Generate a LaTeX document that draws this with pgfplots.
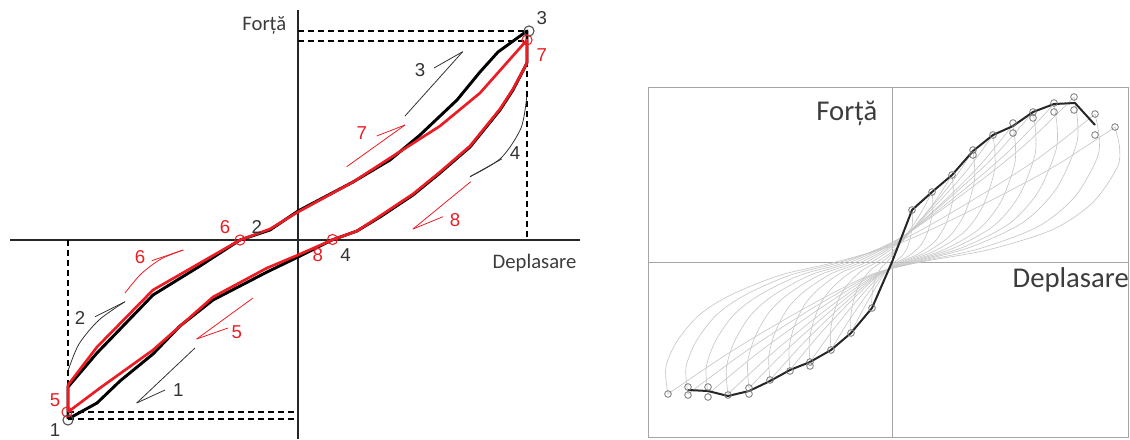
\documentclass[border=0pt]{standalone}
\usepackage{pgfplots}
\pgfplotsset{compat=1.18}
\usepackage{fontspec}
\setmainfont{Carlito}
\newfontfamily\arial{Liberation Sans}
\definecolor{cred}{RGB}{235,28,36}
\definecolor{lgray}{RGB}{200,200,200}
\definecolor{fgray}{RGB}{165,165,165}
\definecolor{mgray}{RGB}{120,120,120}
\definecolor{tgray}{RGB}{60,60,60}
\tikzset{digit/.style={font=\arial\fontsize{14}{16}\selectfont}}
\begin{document}
\begin{tikzpicture}
\begin{axis}[
  at={(0,0)}, anchor=south west,
  width=847.5pt, height=329.25pt, scale only axis,
  xmin=0, xmax=1130, ymin=0, ymax=439, y dir=reverse,
  hide axis, clip=false,
  blk/.style={black, line width=2.2pt, line join=round},
  rdc/.style={cred, line width=2pt, line join=round},
  dsh/.style={black, line width=0.8pt, dash pattern=on 4.5pt off 3pt},
  thinb/.style={black!80, line width=0.6pt},
  thinr/.style={cred, line width=0.6pt},
  loop/.style={lgray, line width=0.5pt, smooth},
]
% ---------- left panel ----------
\addplot[black!85, line width=0.9pt] coordinates {(10,240)(580,240)};
\addplot[black!85, line width=0.9pt] coordinates {(298,10)(298,439)};
\addplot[dsh] coordinates {(298,31)(527,31)};
\addplot[dsh] coordinates {(298,41)(527,41)};
\addplot[dsh] coordinates {(527,31)(527,240)};
\addplot[dsh] coordinates {(68,240)(68,419)};
\addplot[dsh] coordinates {(68,412)(298,412)};
\addplot[dsh] coordinates {(68,419)(298,419)};
% black loop
\addplot[blk] coordinates {(68,419)(68,387)(97,353)(153,295)(200,266)(240,240)(270,230)(298,211)(353,182)(390,160)(420,135)(457,100)(480,72)(498,52)(527,31)(527,63)};
\addplot[blk] coordinates {(527,63)(513,90)(500,110)(470,147)(440,173)(413,195)(380,217)(357,231)(332,240)(298,257)(267,272)(213,300)(180,326)(153,354)(120,381)(97,403)(68,419)};
% red loop
\addplot[rdc] coordinates {(68,412)(68,385)(97,347)(153,290)(200,263)(240,240)(270,229)(298,212)(353,182)(390,158)(440,126)(480,93)(527,40)(527,63)};
\addplot[rdc] coordinates {(527,63)(513,89)(500,109)(470,146)(440,172)(413,194)(380,216)(357,231)(332,240)(298,255)(267,268)(213,297)(153,350)(100,388)(68,412)};
% circles
\addplot[only marks, mark=o, mark size=3.8pt, mark options={draw=black!70, line width=0.8pt}] coordinates {(68,420)(529,31)};
\addplot[only marks, mark=o, mark size=3.8pt, mark options={draw=cred, line width=0.8pt}] coordinates {(67,412)(240,240)(332.5,239.5)(527,40)};
% direction arrows
\addplot[thinb] coordinates {(405,116)(462.7,51.7)};
\addplot[thinb] coordinates {(434,68)(462.7,51.7)};
\addplot[thinr] coordinates {(346.7,166.7)(405,125)};
\addplot[thinr] coordinates {(376.7,136)(405,125)};
\addplot[thinb, smooth] coordinates {(526.7,96.7)(521,128)(501,158)(470,176.7)};
\addplot[thinb] coordinates {(501.7,159)(470,176.7)};
\addplot[thinr] coordinates {(470.7,181.7)(413,229)};
\addplot[thinr] coordinates {(443,216.7)(413,229)};
\addplot[thinb, smooth] coordinates {(68.3,370)(79,344)(99,320)(125,301.7)};
\addplot[thinb] coordinates {(95,316.7)(125,301.7)};
\addplot[thinr, smooth] coordinates {(125,293)(141,274)(161,259)(183.3,250)};
\addplot[thinr] coordinates {(151.7,260.7)(183.3,250)};
\addplot[thinb] coordinates {(195,348)(136.7,403)};
\addplot[thinb] coordinates {(165,390)(136.7,403)};
\addplot[thinr] coordinates {(253,298)(196.7,339)};
\addplot[thinr] coordinates {(228,328)(196.7,339)};
% labels
\node[anchor=base east, text=tgray, font=\fontsize{15.5}{18}\selectfont] at (axis cs:291,31) {Forță};
\node[anchor=base west, text=tgray, font=\fontsize{15.5}{18}\selectfont] at (axis cs:488,268) {Deplasare};
\node[digit, text=black!80] at (axis cs:541.7,18.3) {3};
\node[digit, text=cred] at (axis cs:541.7,55) {7};
\node[digit, text=black!80] at (axis cs:256.7,226.7) {2};
\node[digit, text=cred] at (axis cs:225,226.7) {6};
\node[digit, text=black!80] at (axis cs:345.5,255) {4};
\node[digit, text=cred] at (axis cs:317.8,255) {8};
\node[digit, text=cred] at (axis cs:55,400) {5};
\node[digit, text=black!80] at (axis cs:55,430) {1};
\node[digit, text=black!80] at (axis cs:420,70) {3};
\node[digit, text=cred] at (axis cs:361.7,133.3) {7};
\node[digit, text=black!80] at (axis cs:515,153) {4};
\node[digit, text=cred] at (axis cs:455,220) {8};
\node[digit, text=black!80] at (axis cs:80,318) {2};
\node[digit, text=cred] at (axis cs:140,256.7) {6};
\node[digit, text=black!80] at (axis cs:178.3,390) {1};
\node[digit, text=cred] at (axis cs:236.7,331.7) {5};
% ---------- right panel ----------
\addplot[fgray, line width=0.7pt] coordinates {(648,87)(1128.5,87)(1128.5,437)(648,437)(648,87)};
\addplot[fgray, line width=0.6pt] coordinates {(892,87)(892,437)};
\addplot[fgray, line width=0.6pt] coordinates {(648,262)(1128.5,262)};
% hysteresis loops: reloading branch (negative peak -> positive peak) and unloading branch
\addplot[loop] coordinates {(872,308)(871.8,298.8)(872.8,289.6)(874.8,280.4)(877.6,273.5)(882,266.6)(887,262)(893,254.2)(900,240.2)(906.4,225.6)(912,210)};
\addplot[loop] coordinates {(912,210)(912.4,217.8)(912.2,225.6)(910,239.1)(906.4,249.5)(900.6,257.3)(894.6,262)(890,266.6)(884,278.6)(877.6,293.3)(872,308)};
\addplot[loop] coordinates {(851,333)(850.6,318.8)(852.6,304.6)(856.7,290.4)(862.5,279.8)(871.5,269.1)(881.8,262)(894,251.5)(908,232.6)(920.8,213)(932,192)};
\addplot[loop] coordinates {(932,192)(932.8,202.5)(932.4,213)(928,231.2)(920.8,245.2)(909.2,255.7)(897.2,262)(887.9,269.1)(875.6,287.6)(862.5,310.3)(851,333)};
\addplot[loop] coordinates {(831,350)(830.4,332.4)(833.4,314.8)(839.5,297.2)(848.1,284)(861.5,270.8)(876.8,262)(895,249)(916,225.5)(935.2,201.1)(952,175)};
\addplot[loop] coordinates {(952,175)(953.2,188)(952.6,201.1)(946,223.7)(935.2,241.1)(917.8,254.2)(899.8,262)(885.9,270.8)(867.6,293.7)(848.1,321.8)(831,350)};
\addplot[loop] coordinates {(810,362)(809.2,342)(813.3,322)(821.5,302)(833,287)(851,272)(871.5,262)(896,245.4)(924.4,215.4)(950.3,184.3)(973,151)};
\addplot[loop] coordinates {(973,151)(974.6,167.7)(973.8,184.3)(964.9,213.2)(950.3,235.4)(926.8,252)(902.5,262)(883.8,272)(859.2,298)(833,330)(810,362)};
\addplot[loop] coordinates {(790,370)(789,348.4)(794.1,326.8)(804.3,305.2)(818.6,289)(841,272.8)(866.5,262)(897,243)(932.4,208.7)(964.7,173.1)(993,135)};
\addplot[loop] coordinates {(993,135)(995,154)(994,173.1)(982.9,206.1)(964.7,231.5)(935.4,250.6)(905.1,262)(881.8,272.8)(851.2,300.9)(818.6,335.4)(790,370)};
\addplot[loop] coordinates {(770,380)(768.8,356.4)(774.9,332.8)(787.1,309.2)(804.2,291.5)(831,273.8)(861.5,262)(898,241.5)(940.4,204.5)(979.1,166.1)(1013,125)};
\addplot[loop] coordinates {(1013,125)(1015.4,145.6)(1014.2,166.1)(1000.9,201.7)(979.1,229.1)(944,249.7)(907.7,262)(879.8,273.8)(843.2,304.5)(804.2,342.2)(770,380)};
\addplot[loop] coordinates {(749,388)(747.6,362.8)(754.7,337.6)(769,312.4)(789,293.5)(820.5,274.6)(856.3,262)(899,239.5)(948.4,199)(993.5,157)(1033,112)};
\addplot[loop] coordinates {(1033,112)(1035.8,134.5)(1034.4,157)(1018.9,196)(993.5,226)(952.6,248.5)(910.3,262)(877.7,274.6)(834.8,307.4)(789,347.7)(749,388)};
\addplot[loop] coordinates {(728,394)(726.4,367.6)(734.6,341.2)(751,314.8)(773.9,295)(810,275.2)(851,262)(900.1,238.3)(956.8,195.6)(1008.6,151.4)(1054,104)};
\addplot[loop] coordinates {(1054,104)(1057.2,127.7)(1055.6,151.4)(1037.8,192.5)(1008.6,224.1)(961.7,247.8)(913.1,262)(875.6,275.2)(826.4,309.5)(773.9,351.8)(728,394)};
\addplot[loop] coordinates {(708,394)(706.2,367.6)(715.4,341.2)(733.8,314.8)(759.5,295)(800,275.2)(846,262)(901.1,237.3)(964.8,192.7)(1023,146.5)(1074,97)};
\addplot[loop] coordinates {(1074,97)(1077.6,121.8)(1075.8,146.5)(1055.8,189.4)(1023,222.4)(970.3,247.2)(915.7,262)(873.6,275.2)(818.4,309.5)(759.5,351.8)(708,394)};
\addplot[loop] coordinates {(688,394)(686,367.6)(696.2,341.2)(716.6,314.8)(745.1,295)(790,275.2)(841,262)(902.2,239.8)(973.2,199.8)(1038.2,158.4)(1095,114)};
\addplot[loop] coordinates {(1095,114)(1099.1,136.2)(1097,158.4)(1074.7,196.9)(1038.2,226.5)(979.3,248.7)(918.4,262)(871.6,275.2)(810.4,309.5)(745.1,351.8)(688,394)};
\addplot[loop] coordinates {(668,394)(665.8,367.6)(677,341.2)(699.4,314.8)(730.7,295)(780,275.2)(836,262)(903.2,241.8)(981.2,205.3)(1052.6,167.5)(1115,127)};
\addplot[loop] coordinates {(1115,127)(1119.5,147.3)(1117.2,167.5)(1092.7,202.6)(1052.6,229.6)(987.9,249.9)(921,262)(869.6,275.2)(802.4,309.5)(730.7,351.8)(668,394)};
% envelope
\addplot[black!85, line width=1.5pt, line join=round] coordinates {(688,390)(708,391)(728,396)(749,391)(770,381)(790,370)(810,362)(831,350)(851,333)(872,308)(892,262)(912,210)(932,192)(952,175)(973,151)(993,135)(1013,126)(1033,112)(1054,104)(1075,103)(1095,125)};
% peak markers
\addplot[only marks, mark=o, mark size=2.5pt, mark options={draw=mgray, line width=0.6pt}] coordinates {
(668,394)(688,387)(688,395)(708,387)(708,397)(728,395)(749,388)(749,394)(770,380)(790,371)(810,362)(810,366)(831,350)(851,333)(872,308)
(912,210)(932,192)(952,175)(973,150)(973,155)(993,135)(1013,123)(1013,133)(1033,112)(1033,118)(1054,103)(1054,112)(1074,97)(1074,110)(1095,114)(1095,135)(1115,127)};
\node[anchor=base east, text=tgray, font=\fontsize{21.5}{24}\selectfont] at (axis cs:882,120) {Forță};
\node[anchor=base west, text=tgray, font=\fontsize{21.5}{24}\selectfont] at (axis cs:1008,287) {Deplasare};
\end{axis}
\pgfresetboundingbox
\path[use as bounding box] (current axis.south west) rectangle (current axis.north east);
\end{tikzpicture}
\end{document}
